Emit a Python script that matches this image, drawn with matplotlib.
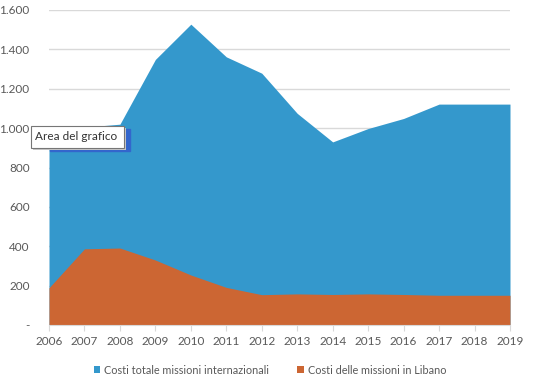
import numpy as np
import matplotlib.pyplot as plt
from matplotlib.patches import Rectangle

plt.rcParams['font.family'] = ['Lato', 'DejaVu Sans']

anni = [2006, 2007, 2008, 2009, 2010, 2011, 2012, 2013, 2014, 2015, 2016, 2017, 2018, 2019]
costi_totali = [995, 1005, 1020, 1349, 1528, 1362, 1279, 1075, 930, 998, 1049, 1122, 1122, 1122]
costi_libano = [189, 387, 391, 330, 254, 191, 154, 158, 155, 158, 155, 151, 151, 151]
y_ticks = [0, 200, 400, 600, 800, 1000, 1200, 1400, 1600]
y_labels = ['-', '200', '400', '600', '800', '1.000', '1.200', '1.400', '1.600']

blu = '#3498CC'
arancio = '#CC6633'
grigio = '#595959'

fig = plt.figure(figsize=(5.33, 3.83), dpi=100)
ax = fig.add_axes([49/533, 1-325/383, 461/533, 315/383])

x = np.array(anni)
ax.fill_between(x, 0, costi_totali, color=blu, lw=0, label='Costi totale missioni internazionali', zorder=2)
ax.fill_between(x, 0, costi_libano, color=arancio, lw=0, label='Costi delle missioni in Libano', zorder=3)

ax.set_xlim(anni[0], anni[-1])
ax.set_ylim(0, 1600)
ax.set_yticks(y_ticks)
ax.set_yticklabels(y_labels)
ax.set_xticks(anni)
ax.set_xticklabels([str(a) for a in anni])
ax.grid(axis='y', color='#D9D9D9', lw=1, zorder=0)
ax.set_axisbelow(True)
for s in ['top', 'right', 'left']:
    ax.spines[s].set_visible(False)
ax.spines['bottom'].set_color('#D9D9D9')
ax.spines['bottom'].set_zorder(4)
ax.tick_params(axis='y', length=0, pad=14, labelsize=8.5, labelcolor=grigio)
ax.tick_params(axis='x', length=4, color='#D9D9D9', pad=4, labelsize=8.5, labelcolor=grigio)

fig.legend(loc='upper center', bbox_to_anchor=(270/533, 1-355/383), ncol=2, frameon=False,
           fontsize=7.8, labelcolor=grigio, handlelength=0.6, handleheight=0.6,
           handletextpad=0.35, columnspacing=2.6)

# tooltip "Area del grafico"
fig.patches.append(Rectangle((50/533, 1-151/383), 80/533, 22/383, transform=fig.transFigure,
                             color='#3366CC', zorder=5))
fig.patches.append(Rectangle((33/533, 1-150/383), 93/533, 22/383, transform=fig.transFigure,
                             facecolor='#C8C8C8', edgecolor='none', zorder=5))
fig.patches.append(Rectangle((31/533, 1-148/383), 93/533, 22/383, transform=fig.transFigure,
                             facecolor='white', edgecolor='#767676', lw=0.8, zorder=6))
fig.text(35/533, 1-137/383, 'Area del grafico', fontsize=8.5, color='#333333', va='center', zorder=7)

fig.savefig('out.png', dpi=100)
